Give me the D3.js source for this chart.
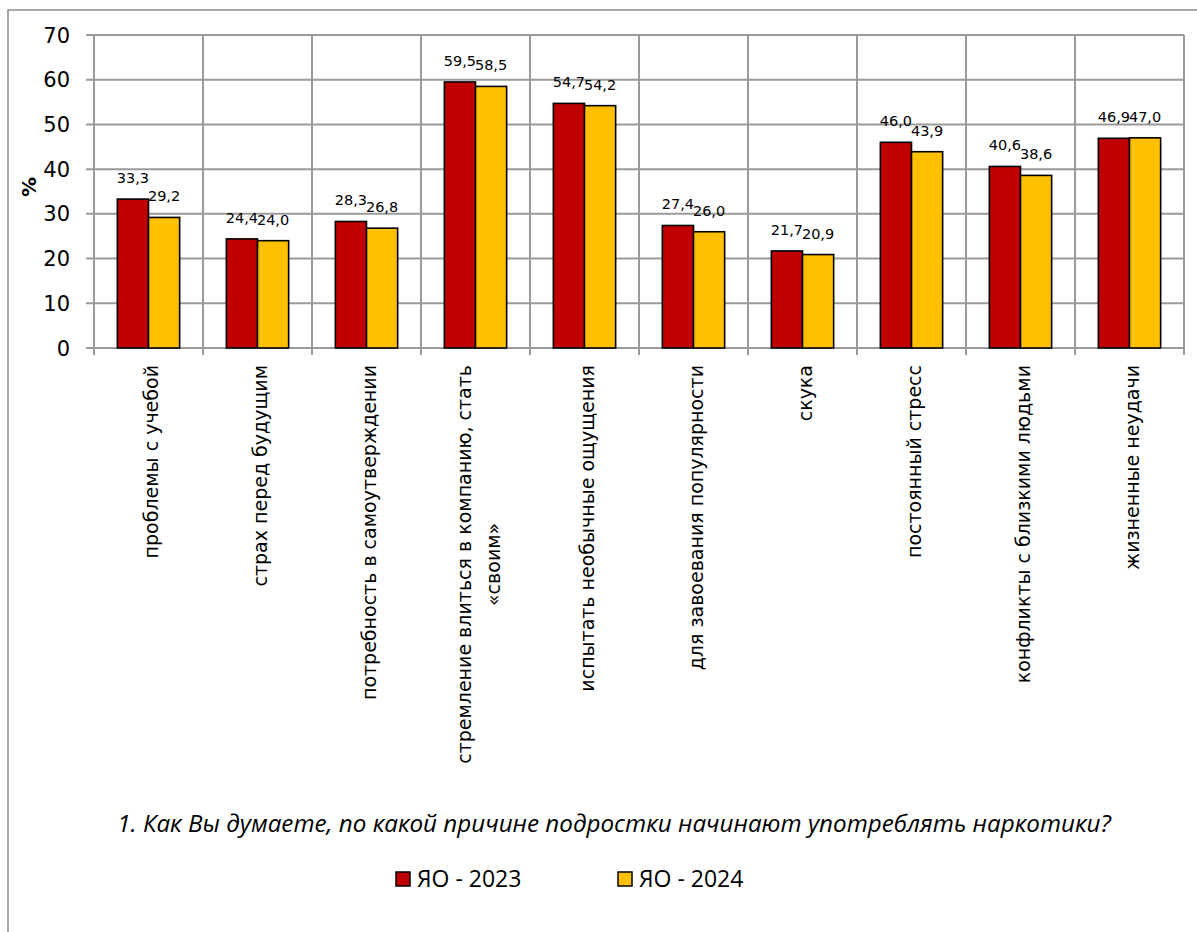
<!DOCTYPE html>
<html><head><meta charset="utf-8">
<script src="https://cdn.jsdelivr.net/npm/d3@7"></script>
<style>body{margin:0;background:#fff}svg{display:block}</style>
</head><body>
<script>
const categories = [
  ["проблемы с учебой"],
  ["страх перед будущим"],
  ["потребность в самоутверждении"],
  ["стремление влиться в компанию, стать", "«своим»"],
  ["испытать необычные ощущения"],
  ["для завоевания популярности"],
  ["скука"],
  ["постоянный стресс"],
  ["конфликты с близкими людьми"],
  ["жизненные неудачи"]
];
const seriesNames = ["ЯО - 2023", "ЯО - 2024"];
const values2023 = [33.3, 24.4, 28.3, 59.5, 54.7, 27.4, 21.7, 46.0, 40.6, 46.9];
const values2024 = [29.2, 24.0, 26.8, 58.5, 54.2, 26.0, 20.9, 43.9, 38.6, 47.0];
const yTicks = [0, 10, 20, 30, 40, 50, 60, 70];
const yLabel = "%";
const title = "1. Как Вы думаете, по какой причине подростки начинают употреблять наркотики?";
const colors = ["#C00000", "#FFC000"];

const W = 1197, H = 932;
const svg = d3.select("body").append("svg").attr("width", W).attr("height", H);

// outer frame
svg.append("path").attr("d", `M8,${H+2} L8,10 L${W+2},10`)
  .attr("fill", "none").attr("stroke", "#8c8c8c").attr("stroke-width", 1.5);

const plot = {left: 94, right: 1184, top: 35, bottom: 348};
const idx = d3.range(categories.length);
const x = d3.scaleBand().domain(idx).range([plot.left, plot.right]).paddingInner(0).paddingOuter(0);
const inner = d3.scaleBand().domain([0, 1]).range([0, x.bandwidth() * 2 / 3.5]);
const groupOffset = (x.bandwidth() - x.bandwidth() * 2 / 3.5) / 2;
const y = d3.scaleLinear().domain([0, 70]).range([plot.bottom, plot.top]);

const grid = "#9a9a9a";
// horizontal grid
svg.append("g").selectAll("line").data(yTicks).join("line")
  .attr("x1", plot.left - 8).attr("x2", plot.right)
  .attr("y1", d => y(d)).attr("y2", d => y(d))
  .attr("stroke", grid).attr("stroke-width", 2);
// vertical grid + x ticks
const bounds = idx.map(i => x(i)).concat([plot.right]);
svg.append("g").selectAll("line").data(bounds).join("line")
  .attr("x1", d => d).attr("x2", d => d)
  .attr("y1", plot.top).attr("y2", plot.bottom + 7)
  .attr("stroke", grid).attr("stroke-width", 2);

// y tick labels
svg.append("g").selectAll("text").data(yTicks).join("text")
  .attr("x", 70).attr("y", d => y(d)).attr("dy", "0.36em")
  .attr("text-anchor", "end")
  .attr("font-family", "DejaVu Sans").attr("font-size", 21).attr("fill", "#000")
  .text(d => d);

// y label
svg.append("text").attr("transform", "translate(29,187) rotate(-90)")
  .attr("text-anchor", "middle").attr("dy", "0.35em")
  .attr("font-family", "DejaVu Sans").attr("font-weight", "bold").attr("font-size", 20)
  .text(yLabel);

// bars
const series = [values2023, values2024];
series.forEach((vals, s) => {
  const g = svg.append("g");
  g.selectAll("rect").data(vals).join("rect")
    .attr("x", (d, i) => x(i) + groupOffset + inner(s))
    .attr("y", d => y(d))
    .attr("width", inner.bandwidth())
    .attr("height", d => y(0) - y(d))
    .attr("fill", colors[s]).attr("stroke", "#000").attr("stroke-width", 1.6);
  g.selectAll("text").data(vals).join("text")
    .attr("x", (d, i) => x(i) + groupOffset + inner(s) + inner.bandwidth() / 2)
    .attr("y", d => y(d) - 16)
    .attr("text-anchor", "middle")
    .attr("font-family", "DejaVu Sans").attr("font-size", 14.5).attr("fill", "#000")
    .text(d => d.toFixed(1).replace(".", ","));
});

// x labels
const xl = svg.append("g").selectAll("text").data(categories).join("text")
  .attr("transform", (d, i) => `translate(${x(i) + x.bandwidth() / 2 + 3},365) rotate(-90)`)
  .attr("font-family", "DejaVu Sans").attr("font-size", 19).attr("fill", "#000");
xl.each(function(lines) {
  const t = d3.select(this);
  const lh = 29;
  const start = -(lines.length - 1) * lh / 2;
  lines.forEach((ln, k) => {
    t.append("tspan").attr("x", 0).attr("y", start + k * lh).attr("dy", "0.35em")
      .attr("text-anchor", "end").text(ln);
  });
  const tsp = t.selectAll("tspan").nodes();
  if (tsp.length > 1) {
    const w0 = tsp[0].getComputedTextLength();
    d3.select(tsp[1]).attr("text-anchor", "middle").attr("x", -w0 / 2);
  }
});

// title
svg.append("text").attr("x", 614).attr("y", 832).attr("text-anchor", "middle")
  .attr("font-family", "Open Sans").attr("font-style", "italic").attr("font-size", 24.2)
  .text(title);

// legend
const legX = [396, 618];
seriesNames.forEach((n, s) => {
  svg.append("rect").attr("x", legX[s]).attr("y", 872).attr("width", 14).attr("height", 14)
    .attr("fill", colors[s]).attr("stroke", "#000").attr("stroke-width", 1.5);
  svg.append("text").attr("x", legX[s] + 21).attr("y", 887)
    .attr("font-family", "Open Sans").attr("font-size", 23).text(n);
});
</script>
</body></html>
